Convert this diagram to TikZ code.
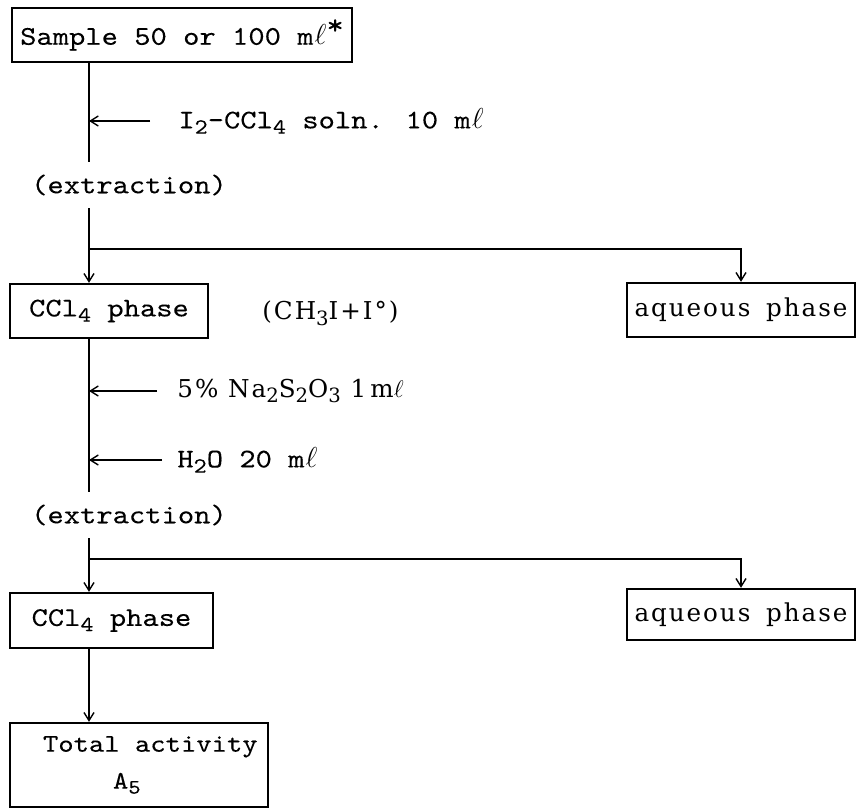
\documentclass[tikz,border=0pt]{standalone}
\usepackage{fontspec}
\newfontfamily\tw{lmmono10-regular.otf}[FakeStretch=1.15,FakeBold=0.15]
\newfontfamily\pfam[LetterSpace=8]{DejaVu Serif}
\usetikzlibrary{arrows.meta}
\newcommand{\mt}{\tw\fontsize{13.5}{17}\selectfont\spaceskip=0.604em\relax}
\newcommand{\mtt}{\tw\fontsize{12.7}{17}\selectfont\spaceskip=0.604em\relax}
\newcommand{\pft}{\pfam\fontsize{12.3}{15}\selectfont}
\newcommand{\lo}[1]{\raisebox{-0.45ex}{\scalebox{0.8}{#1}}}
\newcommand{\mlit}{m\kern0.5pt$\ell$}
\begin{document}
\begin{tikzpicture}[x=0.5pt,y=-0.5pt,
  box/.style={draw,line width=1.2pt,inner sep=0pt,align=center},
  mono/.style={font=\mt},
  prop/.style={font=\pft},
  lbl/.style={inner sep=0pt},
  conn/.style={line width=0.7pt},
  arr/.style={conn,-{Straight Barb[length=4pt,width=5pt]}}]
\useasboundingbox (0,0) rectangle (856,808);
\coordinate (m) at (89,0);
% boxes
\node[box,mono,minimum width=170pt,minimum height=27pt] (S) at (182,35)
  {Sample 50 or 100 \mlit\raisebox{0.9ex}{\Large*}};
\node[box,mono,minimum width=99pt,minimum height=27pt] (C1) at (109,311)
  {CCl\lo{4} phase};
\node[box,prop,minimum width=114pt,minimum height=27pt] (Aq1) at (741,310)
  {aqueous\hspace{3pt} phase};
\node[box,mono,minimum width=101.5pt,minimum height=27.5pt] (C2) at (111.5,620.5)
  {CCl\lo{4} phase};
\node[box,prop,minimum width=114pt,minimum height=25.5pt] (Aq2) at (741,614.5)
  {aqueous\hspace{3pt} phase};
\node[box,font=\mtt,minimum width=129pt,minimum height=42pt,text width=121pt,
  inner xsep=4pt,align=left] (T) at (139,765)
  {\hspace*{12.5pt}Total\hspace{0.604em}activity\\[1.5pt]\hspace*{47.5pt}A\lo{5}};
% labels
\node[lbl,mono,minimum height=23pt] (E1) at (129,185) {(extraction)};
\node[lbl,mono,minimum height=23pt] (E2) at (129,515) {(extraction)};
\node[lbl,mono,anchor=west] (A1) at (178,121) {I\lo{2}-CCl\lo{4} soln. 10 \mlit};
\node[lbl,prop,anchor=west] (A2) at (177,391) {5\% Na\lo{2}S\lo{2}O\lo{3} 1\,m$\ell$};
\node[lbl,mono,anchor=west] (A3) at (177,460) {H\lo{2}O 20 \mlit};
\node[lbl,prop,anchor=west] (L) at (262,313) {(CH\lo{3}I+I°)};
% connectors
\coordinate (b1) at (89,249);
\coordinate (b2) at (89,559);
\draw[conn] (S.south -| m) -- (E1.north -| m);
\draw[arr] ([xshift=-14pt]A1.west) -- (A1.west -| m);
\draw[arr] (E1.south -| m) -- (C1.north -| m);
\draw[arr] (b1) -| (Aq1.north);
\draw[conn] (C1.south -| m) -- (E2.north -| m);
\draw[arr] ([xshift=-10pt]A2.west) -- (A2.west -| m);
\draw[arr] ([xshift=-7.5pt]A3.west) -- (A3.west -| m);
\draw[arr] (E2.south -| m) -- (C2.north -| m);
\draw[arr] (b2) -| (Aq2.north);
\draw[arr] (C2.south -| m) -- (T.north -| m);
\end{tikzpicture}
\end{document}
